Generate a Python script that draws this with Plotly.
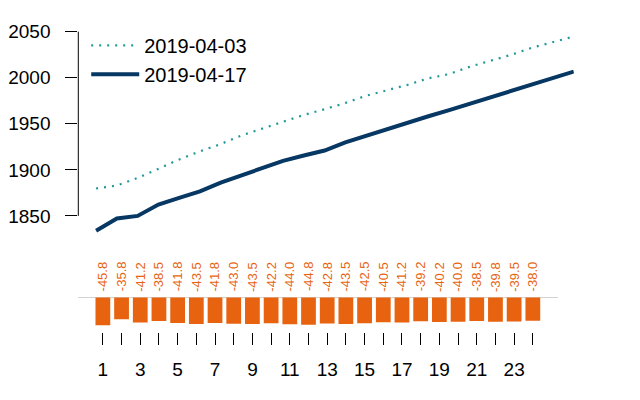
import plotly.graph_objects as go

hours = list(range(1, 25))
series_0403 = [1879.8, 1883.0, 1891.2, 1900.9, 1911.3, 1920.1, 1928.0, 1937.3, 1944.9, 1952.0,
               1959.6, 1965.8, 1972.6, 1980.4, 1986.5, 1992.3, 1999.4, 2004.0, 2012.0, 2018.7,
               2025.0, 2032.7, 2039.1, 2044.7]
series_0417 = [1834.0, 1847.2, 1850.0, 1862.4, 1869.5, 1876.6, 1886.2, 1894.3, 1901.4, 1909.8,
               1915.6, 1921.0, 1929.8, 1936.9, 1944.0, 1951.8, 1958.2, 1964.8, 1971.8, 1978.7,
               1986.5, 1992.9, 1999.6, 2006.7]
diff_values = [-45.8, -35.8, -41.2, -38.5, -41.8, -43.5, -41.8, -43.0, -43.5, -42.2, -44.0, -44.8,
               -42.8, -43.5, -42.5, -40.5, -41.2, -39.2, -40.2, -40.0, -38.5, -39.8, -39.5, -38.0]
x_tick_labels = [str(h) if h % 2 == 1 else "" for h in hours]
y_ticks = [1850, 1900, 1950, 2000, 2050]

FONT = "Liberation Sans, Arial, sans-serif"
ORANGE = "#E8630F"
TEAL = "#22999A"
NAVY = "#073763"

W, H = 640, 400
OX, OY = -8, -11

def px_x(p):
    return (p + OX) / W

def px_y(p):
    return 1 - (p + OY) / H

fig = go.Figure()

fig.add_trace(go.Scatter(x=hours, y=series_0403, mode="lines", name="2019-04-03",
                         line=dict(color=TEAL, width=2.2, dash="2px,6px"),
                         xaxis="x", yaxis="y"))
fig.add_trace(go.Scatter(x=hours, y=series_0417, mode="lines", name="2019-04-17",
                         line=dict(color=NAVY, width=4),
                         xaxis="x", yaxis="y"))
fig.add_trace(go.Bar(x=hours, y=diff_values, marker=dict(color=ORANGE, line=dict(width=0)),
                     showlegend=False, xaxis="x2", yaxis="y2"))

annotations = []
for h, v in zip(hours, diff_values):
    annotations.append(dict(x=h, y=0, xref="x2", yref="y2", text=f"{v:.1f}",
                            showarrow=False, textangle=-90, yanchor="bottom",
                            yshift=4, font=dict(family=FONT, size=13, color=ORANGE)))

fig.update_layout(
    width=W, height=H,
    margin=dict(l=0, r=0, t=0, b=0),
    paper_bgcolor="white", plot_bgcolor="white",
    font=dict(family=FONT, size=19, color="black"),
    bargap=0.21,
    showlegend=True,
    legend=dict(x=px_x(80), y=px_y(21), xanchor="left", yanchor="top",
                bgcolor="rgba(0,0,0,0)", font=dict(size=20), itemwidth=48,
                tracegroupgap=0),
    xaxis=dict(domain=[px_x(72), px_x(573)], range=[1 - 18 / 21, 24],
               showticklabels=False, ticks="", showgrid=False, zeroline=False,
               showline=False, anchor="y"),
    yaxis=dict(domain=[px_y(233.8), px_y(25.1)], range=[1830, 2052],
               tickvals=y_ticks, ticks="outside", ticklen=12, tickcolor="black",
               tickwidth=1, showgrid=False, zeroline=False, showline=False,
               ticklabelstandoff=11, anchor="x"),
    xaxis2=dict(domain=[px_x(71.7), px_x(556.7)], range=[-0.33, 25.33],
                tickvals=hours, ticktext=x_tick_labels, ticks="outside", ticklen=12,
                tickcolor="black", tickwidth=1, showgrid=False, zeroline=False,
                showline=False, ticklabelstandoff=9, anchor="y2"),
    yaxis2=dict(domain=[px_y(333), px_y(297.7)], range=[-56, 1],
                showticklabels=False, ticks="", showgrid=False, zeroline=True,
                zerolinecolor="#d3d3d3", zerolinewidth=1, showline=False, anchor="x2"),
    annotations=annotations,
    shapes=[dict(type="line", xref="x domain", yref="y", x0=0, x1=0,
                 y0=y_ticks[0], y1=y_ticks[-1], line=dict(color="black", width=1))],
)

fig.write_html("out.html")
